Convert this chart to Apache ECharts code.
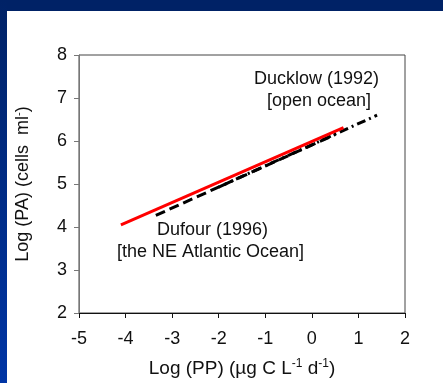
<!DOCTYPE html>
<html>
<head>
<meta charset="utf-8">
<script src="https://cdn.jsdelivr.net/npm/echarts@6/dist/echarts.min.js"></script>
<style>
html, body { margin: 0; padding: 0; }
#main { width: 443px; height: 383px; }
</style>
</head>
<body>
<div id="main"></div>
<script>
var myChart = echarts.init(document.getElementById('main'));

// regression lines, [log PP, log PA] end points
var thisStudy = [[-4.1, 4.05], [0.68, 6.31]];
var dufour = [[-3.35, 4.27], [0.5, 6.15]];
var ducklow = [[-2.0, 4.93], [1.4, 6.6]];

var xTicks = [-5, -4, -3, -2, -1, 0, 1, 2];
var yTicks = [2, 3, 4, 5, 6, 7, 8];

var font = 'Liberation Sans, Arial, sans-serif';

option = {
    backgroundColor: '#002266',
    animation: false,
    graphic: [
        { type: 'rect', z: -10, shape: { x: 0, y: 0, width: 7, height: 383 },
          style: { fill: new echarts.graphic.LinearGradient(0, 0, 0, 1, [
              { offset: 0, color: '#002266' }, { offset: 1, color: '#0035a5' }]) } },
        { type: 'rect', z: -10, shape: { x: 7, y: 11, width: 436, height: 372 },
          style: { fill: '#ffffff' } },
        { type: 'text', right: 64, top: 70, z: 10,
          style: { text: 'Ducklow (1992)', font: '18px ' + font, fill: '#111' } },
        { type: 'text', right: 72, top: 92, z: 10,
          style: { text: '[open ocean]', font: '18px ' + font, fill: '#111' } },
        { type: 'text', left: 157, top: 221, z: 10,
          style: { text: 'Dufour (1996)', font: '18px ' + font, fill: '#111' } },
        { type: 'text', left: 117, top: 243, z: 10,
          style: { text: '[the NE Atlantic Ocean]', font: '18px ' + font, fill: '#111' } }
    ],
    grid: {
        left: 79, right: 38, top: 55, bottom: 68,
        show: true, borderColor: '#444', borderWidth: 1, backgroundColor: 'transparent'
    },
    xAxis: {
        type: 'value', min: -5, max: 2, interval: 1,
        axisLine: { onZero: false, lineStyle: { color: '#111', width: 1 } },
        axisTick: { show: true, length: 5, lineStyle: { color: '#111' } },
        splitLine: { show: false },
        axisLabel: { color: '#111', fontSize: 18, fontFamily: font, margin: 17,
            formatter: function (v) { return xTicks.indexOf(v) >= 0 ? String(v) : ''; } },
        name: '{n|Log (PP) (\u00b5g C L}{s|-1}{n| d}{s|-1}{n|)}',
        nameLocation: 'middle', nameGap: 45,
        nameTextStyle: { rich: {
            n: { fontSize: 19, fontFamily: font, color: '#111' },
            s: { fontSize: 12, fontFamily: font, color: '#111', verticalAlign: 'top', padding: [0, 0, 9, 0] }
        } }
    },
    yAxis: {
        type: 'value', min: 2, max: 8, interval: 1,
        axisLine: { onZero: false, lineStyle: { color: '#777', width: 1 } },
        axisTick: { show: true, length: 5, lineStyle: { color: '#777' } },
        splitLine: { show: false },
        axisLabel: { color: '#111', fontSize: 18, fontFamily: font, margin: 12,
            formatter: function (v) { return yTicks.indexOf(v) >= 0 ? String(v) : ''; } },
        name: '{n|Log (PA) (cells  ml}{s|-}{n|)}',
        nameLocation: 'middle', nameGap: 46,
        nameTextStyle: { rich: {
            n: { fontSize: 18, fontFamily: font, color: '#111' },
            s: { fontSize: 11, fontFamily: font, color: '#111', verticalAlign: 'top', padding: [0, 0, 9, 0] }
        } }
    },
    series: [
        {
            name: 'Dufour (1996)', type: 'line', data: dufour, symbol: 'none',
            lineStyle: { color: '#000', width: 3, type: [10, 5] }, z: 2
        },
        {
            name: 'Ducklow (1992)', type: 'line', data: ducklow, symbol: 'none',
            lineStyle: { color: '#000', width: 3, type: [9, 4, 2, 4] }, z: 2
        },
        {
            name: 'This study', type: 'line', data: thisStudy, symbol: 'none',
            lineStyle: { color: '#ff0000', width: 3 }, z: 3
        }
    ]
};

myChart.setOption(option);
</script>
</body>
</html>
